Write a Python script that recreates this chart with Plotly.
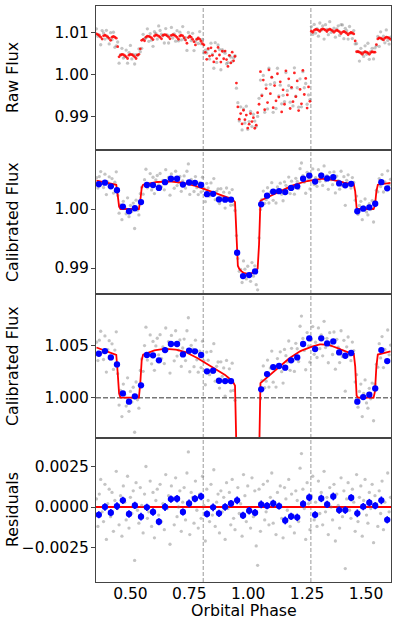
import plotly.graph_objects as go
from plotly.subplots import make_subplots

# ---------------- data ----------------
phase = [
    0.356, 0.362, 0.368, 0.374, 0.380, 0.386, 0.392, 0.398, 0.404, 0.410, 0.416, 0.422, 0.428, 0.434, 0.440,
    0.446, 0.452, 0.458, 0.464, 0.470, 0.476, 0.482, 0.488, 0.494, 0.500, 0.506, 0.512, 0.518, 0.524, 0.530,
    0.536, 0.542, 0.548, 0.554, 0.560, 0.566, 0.572, 0.578, 0.584, 0.590, 0.596, 0.602, 0.608, 0.614, 0.620,
    0.626, 0.632, 0.638, 0.644, 0.650, 0.656, 0.662, 0.668, 0.674, 0.680, 0.686, 0.692, 0.698, 0.704, 0.710,
    0.716, 0.722, 0.728, 0.734, 0.740, 0.746, 0.752, 0.758, 0.764, 0.770, 0.776, 0.782, 0.788, 0.794, 0.800,
    0.806,
    0.812, 0.818, 0.824, 0.830, 0.836, 0.842, 0.848, 0.854, 0.860, 0.866, 0.872, 0.878, 0.884, 0.890, 0.896,
    0.902, 0.908, 0.914, 0.920, 0.926, 0.932, 0.938, 0.944, 0.950, 0.956, 0.962, 0.968, 0.974, 0.980, 0.986,
    0.992, 0.998, 1.004, 1.010, 1.016, 1.022, 1.028, 1.034, 1.040, 1.046, 1.052, 1.058, 1.064, 1.070, 1.076,
    1.082, 1.088, 1.094, 1.100, 1.106, 1.112, 1.118, 1.124, 1.130, 1.136, 1.142, 1.148, 1.154, 1.160, 1.166,
    1.172, 1.178, 1.184, 1.190, 1.196, 1.202, 1.208, 1.214, 1.220, 1.226, 1.232, 1.238, 1.244, 1.250, 1.256,
    1.262,
    1.268, 1.274, 1.280, 1.286, 1.292, 1.298, 1.304, 1.310, 1.316, 1.322, 1.328, 1.334, 1.340, 1.346, 1.352,
    1.358, 1.364, 1.370, 1.376, 1.382, 1.388, 1.394, 1.400, 1.406, 1.412, 1.418, 1.424, 1.430, 1.436, 1.442,
    1.448, 1.454, 1.460, 1.466, 1.472, 1.478, 1.484, 1.490, 1.496, 1.502, 1.508, 1.514, 1.520, 1.526, 1.532,
    1.538, 1.544, 1.550, 1.556, 1.562, 1.568, 1.574, 1.580, 1.586, 1.592, 1.598, 1.604,
]

raw_flux = [
    1.01080, 1.00905, 1.00940, 1.00705, 1.01040, 1.00985, 1.00840, 1.01045, 1.00870, 1.00725, 1.00990, 1.00825,
    1.01000, 1.00645, 1.00680, 1.00770, 1.00270, 1.00470, 1.00620, 1.00390, 1.00420, 1.00580, 1.00270, 1.00520,
    1.00690, 1.00370, 1.00480, 1.00250, 1.00470, 1.00460, 1.00610, 1.00540, 1.00620, 1.00952, 1.00848, 1.00864,
    1.01080, 1.00785, 1.00970, 1.00814, 1.00668, 1.01012, 1.00975, 1.00838, 1.01150, 1.01042, 1.00954, 1.00915,
    1.00746, 1.01086, 1.00936, 1.00746, 1.00915, 1.01115, 1.00864, 1.00962, 1.00790, 1.01038, 1.00795, 1.01002,
    1.00819, 1.01135, 1.00840, 1.00875, 1.00570, 1.00994, 1.00908, 1.00801, 1.00974, 1.00567, 1.00780, 1.00842,
    1.00734, 1.01016, 1.00728, 1.00830,
    1.00512, 1.00576, 1.00510, 1.00594, 1.00368, 1.00742, 1.00486, 1.00150, 1.00754, 1.00288, 1.00701, 1.00593,
    1.00115, 1.00592, 1.00544, 1.00506, 1.00256, 1.00284, 1.00446, 1.00416, 1.00310, 1.00395, 1.00450,
    0.99680, 0.99338, 0.98907, 0.99240, 0.98695, 0.99188, 0.98857, 0.99255, 0.98708, 0.98890, 0.99130, 0.98772,
    0.99064, 0.98903, 0.98776, 0.99012, 0.99440,
    0.99870, 0.99520, 0.99980, 0.99110, 0.99760, 0.99190, 1.00150, 0.99770, 0.99930, 0.99110, 0.99810, 0.99200,
    1.00150, 0.99500, 0.99750, 0.99310, 0.99510, 0.99360, 1.00050, 0.99620, 0.99740, 0.99350, 0.99680, 0.99260,
    1.00160, 0.99490, 0.99690, 0.99230, 0.99900, 0.99240, 1.00070, 0.99690, 0.99790, 0.99300, 0.99520, 0.99410,
    1.01135, 1.00950, 1.01185, 1.00980, 1.01084, 1.00907, 1.01219, 1.01050, 1.01150, 1.00840, 1.01179, 1.01067,
    1.00944, 1.01251, 1.00997, 1.01033, 1.01098, 1.00883, 1.01078, 1.01152, 1.00926, 1.01180, 1.01174, 1.00848,
    1.01092, 1.01036, 1.00840, 1.01136, 1.00974, 1.00852, 1.01040, 1.00725, 1.00730, 1.00550, 1.00320, 1.00620,
    1.00520, 1.00430, 1.00680, 1.00480, 1.00740, 1.00360, 1.00550, 1.00620, 1.00370, 1.00630, 1.00680, 1.00902,
    1.00666, 1.01010, 1.00834, 1.00908, 1.00751, 1.01054, 1.00807, 1.00720, 1.00883,
]

raw_model = [
    1.00960, 1.00945, 1.00920, 1.00885, 1.00840, 1.00915, 1.00930, 1.00915, 1.00890, 1.00855, 1.00810, 1.00885,
    1.00900, 1.00885, 1.00860, 1.00660, 1.00420, 1.00460, 1.00480, 1.00470, 1.00450, 1.00420, 1.00380, 1.00460,
    1.00480, 1.00470, 1.00450, 1.00420, 1.00380, 1.00460, 1.00480, 1.00610, 1.00810, 1.00832, 1.00798, 1.00884,
    1.00910, 1.00905, 1.00890, 1.00864, 1.00828, 1.00912, 1.00935, 1.00928, 1.00910, 1.00882, 1.00844, 1.00925,
    1.00946, 1.00936, 1.00916, 1.00886, 1.00845, 1.00925, 1.00944, 1.00932, 1.00910, 1.00878, 1.00835, 1.00912,
    1.00929, 1.00915, 1.00870, 1.00815, 1.00740, 1.00874, 1.00908, 1.00881, 1.00834, 1.00777, 1.00700, 1.00832,
    1.00864, 1.00836, 1.00788, 1.00730,
    1.00702, 1.00526, 1.00360, 1.00614, 1.00438, 1.00632, 1.00456, 1.00300, 1.00554, 1.00378, 1.00641, 1.00463,
    1.00295, 1.00552, 1.00374, 1.00556, 1.00356, 1.00194, 1.00456, 1.00276, 1.00530, 1.00325, 1.00430,
    0.99800, 0.99238, 0.98947, 0.99080, 0.98835, 0.99158, 0.98937, 0.99045, 0.98738, 0.98830, 0.99080, 0.98892,
    0.98984, 0.98733, 0.98806, 0.99102, 0.99300,
    1.00070, 0.99500, 0.99870, 0.99170, 0.99670, 0.99340, 1.00110, 0.99550, 0.99940, 0.99220, 0.99740, 0.99380,
    1.00020, 0.99470, 0.99830, 0.99120, 0.99640, 0.99300, 1.00090, 0.99520, 0.99900, 0.99200, 0.99700, 0.99360,
    1.00040, 0.99480, 0.99850, 0.99150, 0.99650, 0.99310, 1.00100, 0.99530, 0.99910, 0.99210, 0.99710, 0.99370,
    1.01025, 1.01000, 1.01045, 1.01070, 1.01064, 1.01047, 1.01019, 1.01060, 1.01080, 1.01070, 1.01049, 1.01017,
    1.01054, 1.01071, 1.01057, 1.01033, 1.00998, 1.01033, 1.01048, 1.01032, 1.01006, 1.00970, 1.01004, 1.01018,
    1.01002, 1.00976, 1.00940, 1.00976, 1.00994, 1.00982, 1.00960, 1.00795, 1.00540, 1.00540, 1.00530, 1.00510,
    1.00480, 1.00520, 1.00540, 1.00530, 1.00510, 1.00480, 1.00520, 1.00540, 1.00530, 1.00530, 1.00710, 1.00842,
    1.00866, 1.00860, 1.00844, 1.00818, 1.00861, 1.00884, 1.00877, 1.00860, 1.00833,
]

cal_flux = [
    1.00530, 1.00355, 1.00550, 1.00635, 1.00430, 1.00365, 1.00590, 1.00245, 1.00460, 1.00545, 1.00370, 1.00515,
    1.00270, 1.00455, 1.00630, 1.00230, 0.99930, 1.00070, 0.99820, 1.00130, 1.00030, 0.99920, 1.00190, 0.99870,
    1.00060, 0.99960, 1.00100, 0.99670, 1.00150, 0.99980, 0.99900, 1.00260, 1.00370, 1.00252, 1.00498, 1.00674,
    1.00360, 1.00405, 1.00600, 1.00324, 1.00538, 1.00262, 1.00495, 1.00568, 1.00410, 1.00602, 1.00374, 1.00485,
    1.00326, 1.00666, 1.00456, 1.00536, 1.00235, 1.00595, 1.00514, 1.00352, 1.00640, 1.00398, 1.00455, 1.00552,
    1.00299, 1.00475, 1.00560, 1.00355, 1.00640, 1.00764, 1.00248, 1.00501, 1.00464, 1.00297, 1.00550, 1.00362,
    1.00244, 1.00446, 1.00288, 1.00540,
    1.00352, 1.00124, 1.00436, 1.00358, 1.00220, 1.00442, 1.00244, 1.00516, 1.00158, 1.00300, 1.00341, 1.00092,
    1.00343, 1.00204, 1.00285, 1.00016, 1.00356, 1.00186, 1.00276, 1.00064, 1.00330, 1.00070, 0.99975, 0.99550,
    0.99160, 0.98945, 0.98975, 0.98755, 0.99120, 0.98980, 0.98815, 0.99030, 0.98880, 0.98775, 0.99092, 0.98862,
    0.99038, 0.98718, 0.98630, 0.99510, 0.99990, 1.00162, 1.00304, 1.00096, 1.00158, 1.00360, 1.00102, 1.00284,
    1.00446, 1.00148, 1.00290, 1.00102, 1.00374, 1.00296, 1.00438, 1.00249, 1.00140, 1.00461, 1.00402, 1.00342,
    1.00542, 1.00262, 1.00472, 1.00352, 1.00251, 1.00520, 1.00468, 1.00346, 1.00683, 1.00780, 1.00566, 1.00452,
    1.00267, 1.00622, 1.00496, 1.00340,
    1.00555, 1.00680, 1.00415, 1.00530, 1.00384, 1.00667, 1.00469, 1.00600, 1.00400, 1.00730, 1.00479, 1.00567,
    1.00334, 1.00621, 1.00497, 1.00413, 1.00628, 1.00273, 1.00558, 1.00482, 1.00336, 1.00640, 1.00394, 1.00548,
    1.00062, 1.00486, 1.00580, 1.00406, 1.00354, 1.00532, 1.00450, 1.00150, 1.00220, 0.99910, 1.00060, 1.00130,
    0.99820, 1.00040, 1.00170, 0.99950, 0.99900, 1.00090, 0.99990, 1.00140, 0.99780, 1.00130, 1.00320, 1.00292,
    1.00516, 1.00380, 1.00584, 1.00288, 1.00461, 1.00354, 1.00647, 1.00410, 1.00503,
]

astro_model = [
    1.00480, 1.00475, 1.00470, 1.00465, 1.00460, 1.00455, 1.00450, 1.00445, 1.00440, 1.00435, 1.00430, 1.00425,
    1.00420, 1.00415, 1.00410, 1.00240, 1.00040, 1.00000, 1.00000, 1.00000, 1.00000, 1.00000, 1.00000, 1.00000,
    1.00000, 1.00000, 1.00000, 1.00000, 1.00000, 1.00000, 1.00000, 1.00140, 1.00360, 1.00412, 1.00418, 1.00424,
    1.00430, 1.00435, 1.00440, 1.00444, 1.00448, 1.00452, 1.00455, 1.00458, 1.00460, 1.00462, 1.00464, 1.00465,
    1.00466, 1.00466, 1.00466, 1.00466, 1.00465, 1.00465, 1.00464, 1.00462, 1.00460, 1.00458, 1.00455, 1.00452,
    1.00449, 1.00445, 1.00440, 1.00435, 1.00430, 1.00424, 1.00418, 1.00411, 1.00404, 1.00397, 1.00390, 1.00382,
    1.00374, 1.00366, 1.00358, 1.00350,
    1.00342, 1.00334, 1.00326, 1.00318, 1.00310, 1.00302, 1.00294, 1.00286, 1.00278, 1.00270, 1.00261, 1.00252,
    1.00243, 1.00234, 1.00225, 1.00216, 1.00206, 1.00196, 1.00186, 1.00174, 1.00160, 1.00140, 1.00115,
    0.99500, 0.99040, 0.98985, 0.98955, 0.98935, 0.98920, 0.98910, 0.98905, 0.98900, 0.98900, 0.98905, 0.98912,
    0.98922, 0.98938, 0.98958, 0.98990, 0.99400,
    1.00140, 1.00152, 1.00164, 1.00176, 1.00188, 1.00200, 1.00212, 1.00224, 1.00236, 1.00248, 1.00260, 1.00272,
    1.00284, 1.00296, 1.00308, 1.00319, 1.00330, 1.00341, 1.00352, 1.00362, 1.00372, 1.00382, 1.00392, 1.00402,
    1.00411, 1.00420, 1.00428, 1.00436, 1.00443, 1.00450, 1.00456, 1.00462, 1.00467, 1.00472, 1.00476, 1.00480,
    1.00485, 1.00490, 1.00495, 1.00500, 1.00504, 1.00507, 1.00509, 1.00510, 1.00510, 1.00510, 1.00509, 1.00507,
    1.00504, 1.00501, 1.00497, 1.00493, 1.00488, 1.00483, 1.00478, 1.00472, 1.00466, 1.00460, 1.00454, 1.00448,
    1.00442, 1.00436, 1.00430, 1.00426, 1.00424, 1.00422, 1.00420, 1.00300, 1.00020, 1.00000, 1.00000, 1.00000,
    1.00000, 1.00000, 1.00000, 1.00000, 1.00000, 1.00000, 1.00000, 1.00000, 1.00000, 1.00060, 1.00300, 1.00412,
    1.00416, 1.00420, 1.00424, 1.00428, 1.00431, 1.00434, 1.00437, 1.00440, 1.00443,
]

residuals = [
    0.0005, -0.0012, 0.0008, 0.0017, -0.0003, -0.0009, 0.0014, -0.0020, 0.0002, 0.0011,
    -0.0006, 0.0009, -0.0015, 0.0004, 0.0022, -0.0001, -0.0011, 0.0007, -0.0018, 0.0013,
    0.0003, -0.0008, 0.0019, -0.0013, 0.0006, -0.0004, 0.0010, -0.0033, 0.0015, -0.0002,
    -0.0010, 0.0012, 0.0001, -0.0016, 0.0008, 0.0025, -0.0007, -0.0003, 0.0016, -0.0012,
    0.0009, -0.0019, 0.0004, 0.0011, -0.0005, 0.0014, -0.0009, 0.0002, -0.0014, 0.0020,
    -0.0001, 0.0007, -0.0023, 0.0013, 0.0005, -0.0011, 0.0018, -0.0006, 0.0000, 0.0010,
    -0.0015, 0.0003, 0.0012, -0.0008, 0.0021, 0.0034, -0.0017, 0.0009, 0.0006, -0.0010,
    0.0016, -0.0002, -0.0013, 0.0008, -0.0007, 0.0019, 0.0001, -0.0021, 0.0011, 0.0004,
    -0.0009, 0.0014, -0.0005, 0.0023, -0.0012, 0.0003, 0.0008, -0.0016, 0.0010, -0.0003,
    0.0006, -0.0020, 0.0015, -0.0001, 0.0009, -0.0011, 0.0017, -0.0007, -0.0014, 0.0005,
    0.0012, -0.0004, 0.0002, -0.0018, 0.0020, 0.0007, -0.0009, 0.0013, -0.0002, -0.0013,
    0.0018, -0.0006, 0.0010, -0.0024, -0.0036, 0.0011, -0.0015, 0.0001, 0.0014, -0.0008,
    -0.0003, 0.0016, -0.0011, 0.0006, 0.0021, -0.0010, 0.0003, -0.0017, 0.0009, 0.0000,
    0.0013, -0.0007, -0.0019, 0.0012, 0.0005, -0.0002, 0.0017, -0.0012, 0.0008, -0.0005,
    -0.0016, 0.0010, 0.0004, -0.0009, 0.0024, 0.0033, 0.0011, -0.0001, -0.0020, 0.0015,
    0.0002, -0.0014, 0.0007, 0.0019, -0.0008, 0.0003, -0.0012, 0.0016, -0.0004, 0.0009,
    -0.0011, 0.0022, -0.0003, 0.0006, -0.0017, 0.0012, 0.0000, -0.0008, 0.0014, -0.0021,
    0.0008, 0.0001, -0.0013, 0.0018, -0.0006, 0.0010, -0.0038, 0.0005, 0.0015, -0.0002,
    -0.0007, 0.0011, 0.0003, -0.0015, 0.0020, -0.0009, 0.0006, 0.0013, -0.0018, 0.0004,
    0.0017, -0.0005, -0.0010, 0.0009, -0.0001, 0.0014, -0.0022, 0.0007, 0.0002, -0.0012,
    0.0010, -0.0004, 0.0016, -0.0014, 0.0003, -0.0008, 0.0021, -0.0003, 0.0006,
]

bin_phase = [
    0.366, 0.392, 0.417, 0.443, 0.468, 0.494, 0.519, 0.545, 0.570, 0.596,
    0.621, 0.647, 0.672, 0.698, 0.723, 0.749, 0.774, 0.800, 0.825, 0.851,
    0.876, 0.902, 0.927, 0.953, 0.978, 1.004, 1.029, 1.055, 1.080, 1.106,
    1.131, 1.157, 1.182, 1.208, 1.233, 1.259, 1.284, 1.310, 1.335, 1.361,
    1.386, 1.412, 1.437, 1.463, 1.488, 1.514, 1.539, 1.565, 1.590,
]
bin_flux = [
    1.00420, 1.00446, 1.00385, 1.00318, 1.00041, 0.99962, 1.00013, 1.00118, 1.00408, 1.00405,
    1.00357, 1.00455, 1.00513, 1.00513, 1.00414, 1.00449, 1.00443, 1.00408, 1.00252, 1.00258,
    1.00162, 1.00159, 1.00159, 0.99259, 0.98864, 0.98881, 0.98943, 1.00080, 1.00226, 1.00293,
    1.00303, 1.00287, 1.00357, 1.00385, 1.00513, 1.00567, 1.00465, 1.00567, 1.00519, 1.00538,
    1.00433, 1.00401, 1.00427, 0.99962, 1.00006, 1.00029, 1.00089, 1.00455, 1.00350,
]
bin_resid = [
    -0.00048, 0.00000, -0.00035, 0.00006, 0.00041, -0.00043, 0.00010, -0.00060, -0.00002, -0.00031,
    -0.00091, 0.00000, 0.00049, 0.00051, -0.00031, 0.00022, 0.00051, 0.00065, -0.00043, -0.00002,
    -0.00039, 0.00000, 0.00022, 0.00041, -0.00052, -0.00023, -0.00035, 0.00016, 0.00008, 0.00022,
    0.00006, -0.00083, -0.00058, -0.00064, 0.00019, 0.00059, -0.00048, 0.00053, 0.00016, 0.00065,
    -0.00019, -0.00019, 0.00057, -0.00039, 0.00002, 0.00027, 0.00008, 0.00041, -0.00079,
]
bin_err = [
    0.00022, 0.00023, 0.00022, 0.00024, 0.00022, 0.00023, 0.00022, 0.00024, 0.00022, 0.00023,
    0.00022, 0.00024, 0.00022, 0.00023, 0.00022, 0.00024, 0.00022, 0.00023, 0.00022, 0.00024,
    0.00022, 0.00023, 0.00022, 0.00024, 0.00022, 0.00023, 0.00022, 0.00024, 0.00022, 0.00023,
    0.00022, 0.00024, 0.00022, 0.00023, 0.00022, 0.00024, 0.00022, 0.00023, 0.00022, 0.00024,
    0.00022, 0.00023, 0.00022, 0.00024, 0.00022, 0.00023, 0.00022, 0.00024, 0.00022,
]

segment_edges = [0.809, 1.266]   # AOR boundaries (vertical dashed lines)
eclipse_floor = 1.0              # horizontal dashed line (panel 3)
resid_zero = 0.0                 # residual model line (panel 4)

x_ticks = [0.50, 0.75, 1.00, 1.25, 1.50]
y_ticks = [[0.99, 1.00, 1.01], [0.99, 1.00], [1.000, 1.005], [-0.0025, 0.0, 0.0025]]
y_formats = [".2f", ".2f", ".3f", ".4f"]
y_titles = ["Raw Flux", "Calibrated Flux", "Calibrated Flux", "Residuals"]

n = len(phase)
for arr in (raw_flux, raw_model, cal_flux, astro_model, residuals):
    assert len(arr) == n, (len(arr), n)
for arr in (bin_flux, bin_resid, bin_err):
    assert len(arr) == len(bin_phase)

# ---------------- styling ----------------
X_RANGE = [0.354, 1.606]
Y_RANGES = [[0.9822, 1.0162], [0.9856, 1.0100], [0.99615, 1.00991], [-0.00463, 0.00426]]
FONT = "DejaVu Sans"
FS = 15.5
AX = "#444444"
GRAY = "rgba(115,115,115,0.42)"

fig = make_subplots(rows=4, cols=1, shared_xaxes=True, vertical_spacing=0)


def gray(y, row):
    fig.add_trace(go.Scatter(x=phase, y=y, mode="markers",
                             marker=dict(size=3.3, color=GRAY, line=dict(width=0)),
                             hoverinfo="skip"), row=row, col=1)


def binned(y, row):
    fig.add_trace(go.Scatter(x=bin_phase, y=y, mode="markers",
                             marker=dict(size=6.3, color="#0000ff", line=dict(width=0)),
                             error_y=dict(type="data", array=bin_err, visible=True,
                                          color="#0000ff", thickness=1.6, width=0)),
                  row=row, col=1)


# panel 1: raw flux
gray(raw_flux, 1)
fig.add_trace(go.Scatter(x=phase, y=raw_model, mode="markers",
                         marker=dict(size=2.8, color="rgba(255,0,0,0.85)", line=dict(width=0))),
              row=1, col=1)

# panels 2 & 3: calibrated flux
for r in (2, 3):
    gray(cal_flux, r)
    fig.add_trace(go.Scatter(x=phase, y=astro_model, mode="lines",
                             line=dict(color="red", width=1.8)), row=r, col=1)
    binned(bin_flux, r)

# panel 4: residuals
gray(residuals, 4)
binned(bin_resid, 4)

# reference lines
for r in range(1, 5):
    for e in segment_edges:
        fig.add_vline(x=e, row=r, col=1, layer="below",
                      line=dict(color="#9a9a9a", width=1, dash="4px,2px"))
fig.add_hline(y=eclipse_floor, row=3, col=1, layer="below",
              line=dict(color="#777777", width=1.5, dash="5px,2px"))
fig.add_hline(y=resid_zero, row=4, col=1, layer="below",
              line=dict(color="red", width=1.8))

# axes
for r in range(1, 5):
    fig.update_yaxes(row=r, col=1, range=Y_RANGES[r - 1], tickvals=y_ticks[r - 1],
                     tickformat=y_formats[r - 1], ticks="outside", ticklen=4, tickwidth=1,
                     tickcolor=AX, showline=True, linecolor=AX, linewidth=1, mirror=True,
                     showgrid=False, zeroline=False, automargin=False, ticklabelstandoff=-1,
                     tickfont=dict(size=FS, color="black"))
    fig.update_xaxes(row=r, col=1, range=X_RANGE, showline=True, linecolor=AX, linewidth=1,
                     mirror=True, showgrid=False, zeroline=False, automargin=False,
                     ticks="", tickvals=x_ticks, tickformat=".2f", showticklabels=(r == 4),
                     ticklabelstandoff=-3, tickfont=dict(size=FS, color="black"))

# axis titles (aligned like the reference)
PLOT_L, PLOT_R, PLOT_T, PLOT_B = 96, 391, 6, 582
pw = PLOT_R - PLOT_L
ph = PLOT_B - PLOT_T
annotations = []
for i, t in enumerate(y_titles):
    annotations.append(dict(text=t, textangle=-90, xref="paper", yref="paper",
                            x=(12 - PLOT_L) / pw, y=1 - (i + 0.5) / 4,
                            xanchor="center", yanchor="middle", showarrow=False,
                            font=dict(size=FS + 0.3, color="black", family=FONT)))
annotations.append(dict(text="Orbital Phase", xref="paper", yref="paper",
                        x=0.5, y=-(610 - PLOT_B) / ph, xanchor="center", yanchor="middle",
                        showarrow=False, font=dict(size=FS + 0.3, color="black", family=FONT)))

fig.update_layout(width=398, height=625, showlegend=False,
                  margin=dict(l=PLOT_L, r=398 - PLOT_R, t=PLOT_T, b=625 - PLOT_B, pad=0),
                  paper_bgcolor="white", plot_bgcolor="white",
                  font=dict(family=FONT, size=FS, color="black"),
                  annotations=annotations)

fig.write_html("out.html", config={"displayModeBar": False},
               post_script="document.body.style.margin='0';document.body.style.padding='0';")
